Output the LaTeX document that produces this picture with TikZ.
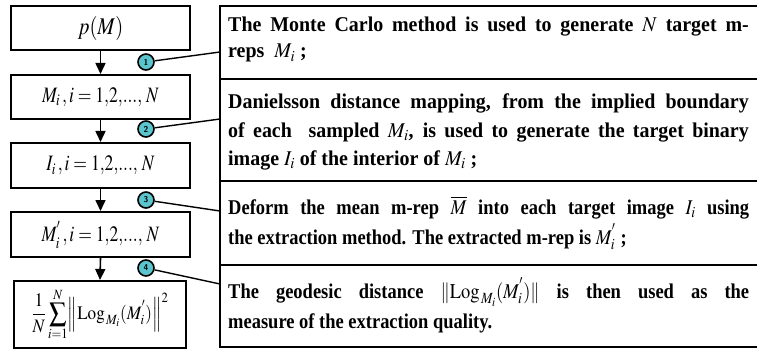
\documentclass[tikz,border=0pt]{standalone}
\usepackage{graphicx}
\usepackage{mathptmx}
\usepackage{fontspec}
\setmainfont{Liberation Serif}
\usetikzlibrary{arrows.meta}
\definecolor{circfill}{HTML}{5BC5CD}
\newcommand{\jline}[1]{\scalebox{0.95}[1]{\makebox[548pt][s]{#1}}}
\newcommand{\nline}[1]{\scalebox{0.95}[1]{#1}}
\newcommand{\jlineb}[1]{\scalebox{0.88}[1]{\makebox[592pt][s]{#1}}}
\newcommand{\nlineb}[1]{\scalebox{0.88}[1]{#1}}
\newcommand{\hsq}[2]{\scalebox{#1}[1]{#2}}
\tikzset{
  lbox/.style={draw, line width=2pt, inner sep=0pt, minimum width=179pt, minimum height=44pt, font=\fontsize{22}{26}\selectfont},
  arr/.style={line width=1.6pt, -{Triangle[length=11pt,width=10pt]}},
  circ/.style={circle, draw, line width=1.6pt, fill=circfill, minimum size=16pt, inner sep=0pt, font=\sffamily\bfseries\fontsize{8.5}{8.5}\selectfont},
  conn/.style={line width=1.4pt},
  tline/.style={line width=2pt},
  rtxt/.style={anchor=base west, inner sep=0pt, font=\fontsize{21}{25}\selectfont\bfseries}
}
\begin{document}
\begin{tikzpicture}[x=1pt,y=-1pt]
\useasboundingbox (0,0) rectangle (757,350);
% left column
\node[lbox, font=\fontsize{24}{28}\selectfont] (b1) at (100.5,28.5) {\hsq{0.85}{$p(M)$}};
\node[lbox] (b2) at (100.5,97) {\hsq{0.8}{$M_i\,,i=1{,}2{,}...{,}\;N$}};
\node[lbox, minimum height=45pt] (b3) at (100.5,165.5) {\hsq{0.8}{$I_i\,,i=1{,}2{,}...{,}\;N$}};
\node[lbox, minimum height=45pt] (b4) at (100.5,234.5) {\hsq{0.8}{$M^{'}_i\,,i=1{,}2{,}...{,}\;N$}};
\node[lbox, minimum width=172pt, minimum height=67pt, font=\fontsize{19}{22}\selectfont] (b5) at (100,314.5)
  {\hsq{0.9}{$\displaystyle\frac{1}{N}\sum_{i=1}^{N}\Bigl\|\mathrm{Log}_{\,M_i}(M^{'}_i)\Bigr\|^{2}$}};
\draw[arr] (b1.south) -- (b2.north);
\draw[arr] (b2.south) -- (b3.north);
\draw[arr] (b3.south) -- (b4.north);
\draw[arr] (b4.south) -- (b5.north);
% table
\draw[tline] (757,6) -- (220,6) -- (220,347) -- (757,347);
\draw[tline] (220,79) -- (757,79);
\draw[tline] (220,181) -- (757,181);
\draw[tline] (220,265) -- (757,265);
\coordinate (e1) at (220,52);
\coordinate (e2) at (220,119);
\coordinate (e3) at (220,211);
\coordinate (e4) at (220,284);
% circles
\node[circ] (c1) at (146,62) {1};
\node[circ] (c2) at (146,129) {2};
\node[circ] (c3) at (146,200) {3};
\node[circ] (c4) at (146,268) {4};
\draw[conn] (c1) -- (e1);
\draw[conn] (c2) -- (e2);
\draw[conn] (c3) -- (e3);
\draw[conn] (c4) -- (e4);
% texts
\node[rtxt] (t11) at (228,32) {\jline{The Monte Carlo method is used to generate $N$ target m-}};
\node[rtxt] (t12) at (228,58) {\nline{reps\ \ $M_i$ ;}};
\node[rtxt] (t21) at (228,109) {\jline{Danielsson distance mapping, from the implied boundary}};
\node[rtxt] (t22) at (228,137) {\jline{of each\ \ sampled $M_i$, is used to generate the target binary}};
\node[rtxt] (t23) at (228,165) {\nline{image\ $I_i$ of the interior of $M_i$ ;}};
\node[rtxt] (t31) at (228,214) {\jlineb{Deform the mean m-rep $\overline{M}$\ into each target image $I_i$ using}};
\node[rtxt] (t32) at (228,244) {\nlineb{the extraction method. The extracted m-rep is\ $M^{'}_i$ ;}};
\node[rtxt] (t41) at (228,298) {\jlineb{The geodesic distance $\|\mathrm{Log}_{\,M_i}(M^{'}_i)\|$ is then used as the}};
\node[rtxt] (t42) at (228,328) {\nlineb{measure of the extraction quality.}};
\end{tikzpicture}
\end{document}
